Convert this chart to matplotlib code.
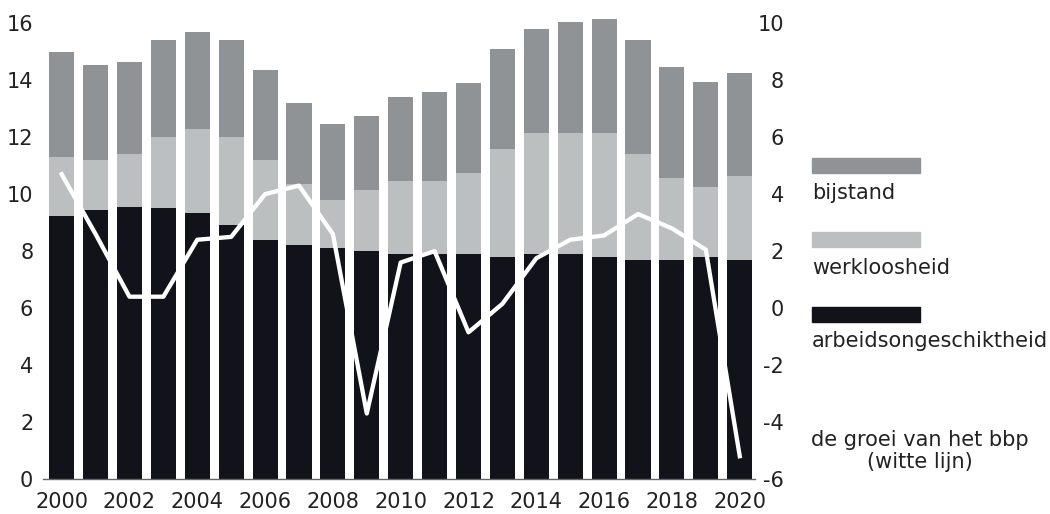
import matplotlib.pyplot as plt
from matplotlib.patches import Rectangle

years = list(range(2000, 2021))
arbeidsongeschiktheid = [9.25, 9.45, 9.55, 9.5, 9.35, 8.9, 8.4, 8.2, 8.1, 8.0, 7.9,
                         7.9, 7.9, 7.8, 7.9, 7.9, 7.8, 7.7, 7.7, 7.8, 7.7]
werkloosheid = [2.05, 1.75, 1.85, 2.5, 2.95, 3.1, 2.8, 2.15, 1.7, 2.15, 2.55,
                2.55, 2.85, 3.8, 4.25, 4.25, 4.35, 3.7, 2.85, 2.45, 2.95]
bijstand = [3.7, 3.35, 3.25, 3.4, 3.4, 3.4, 3.15, 2.85, 2.65, 2.6, 2.95,
            3.15, 3.15, 3.5, 3.65, 3.9, 4.0, 4.0, 3.9, 3.7, 3.6]
bbp_groei = [4.7, 2.6, 0.4, 0.4, 2.4, 2.5, 4.0, 4.3, 2.6, -3.7, 1.6,
             2.0, -0.85, 0.15, 1.75, 2.4, 2.55, 3.3, 2.8, 2.05, -5.2]

c_arb = '#12121a'
c_werk = '#bcbfbf'
c_bij = '#909396'
txt = '#222222'

plt.rcParams['font.family'] = 'DejaVu Sans'
plt.rcParams['axes.unicode_minus'] = False
fig = plt.figure(figsize=(10.5, 5.14), dpi=100)
ax = fig.add_axes([43 / 1050, 35 / 514, 712 / 1050, 470 / 514])

bottom2 = [a + w for a, w in zip(arbeidsongeschiktheid, werkloosheid)]
ax.bar(years, arbeidsongeschiktheid, width=0.74, color=c_arb, zorder=2)
ax.bar(years, werkloosheid, width=0.74, bottom=arbeidsongeschiktheid, color=c_werk, zorder=2)
ax.bar(years, bijstand, width=0.74, bottom=bottom2, color=c_bij, zorder=2)

ax.set_xlim(1999.45, 2020.45)
ax.set_ylim(0, 16.5)
ax.set_yticks(range(0, 17, 2))
ax.set_xticks(range(2000, 2021, 2))
for s in ['top', 'right', 'left']:
    ax.spines[s].set_visible(False)
ax.spines['bottom'].set_color('#666666')
ax.spines['bottom'].set_linewidth(1.0)
ax.tick_params(axis='y', length=0, pad=7, labelsize=15, labelcolor=txt)
ax.tick_params(axis='x', length=0, pad=9, labelsize=15, labelcolor=txt)

ax2 = ax.twinx()
ax2.plot(years, bbp_groei, color='white', linewidth=3.1, zorder=5)
ax2.set_ylim(-6, 10.5)
ax2.set_yticks(range(-6, 11, 2))
for s in ax2.spines.values():
    s.set_visible(False)
ax2.tick_params(axis='y', length=0, pad=21, labelsize=15, labelcolor=txt)
for lbl in ax2.get_yticklabels():
    lbl.set_horizontalalignment('right')

# legend on the right
H = 514
legend_items = [(c_bij, 158, 'bijstand', 193),
                (c_werk, 232, 'werkloosheid', 268),
                (c_arb, 307, 'arbeidsongeschiktheid', 341)]
for col, ytop, label, ytxt in legend_items:
    fig.add_artist(Rectangle((812 / 1050, (H - ytop - 15) / H), 108 / 1050, 15 / H,
                             transform=fig.transFigure, color=col))
    fig.text(812 / 1050, (H - ytxt) / H, label, fontsize=15, color=txt,
             ha='left', va='center')
fig.text(920 / 1050, (H - 451) / H, 'de groei van het bbp\n(witte lijn)', fontsize=15,
         color=txt, ha='center', va='center', linespacing=1.15)

fig.savefig('out.png', dpi=100)
